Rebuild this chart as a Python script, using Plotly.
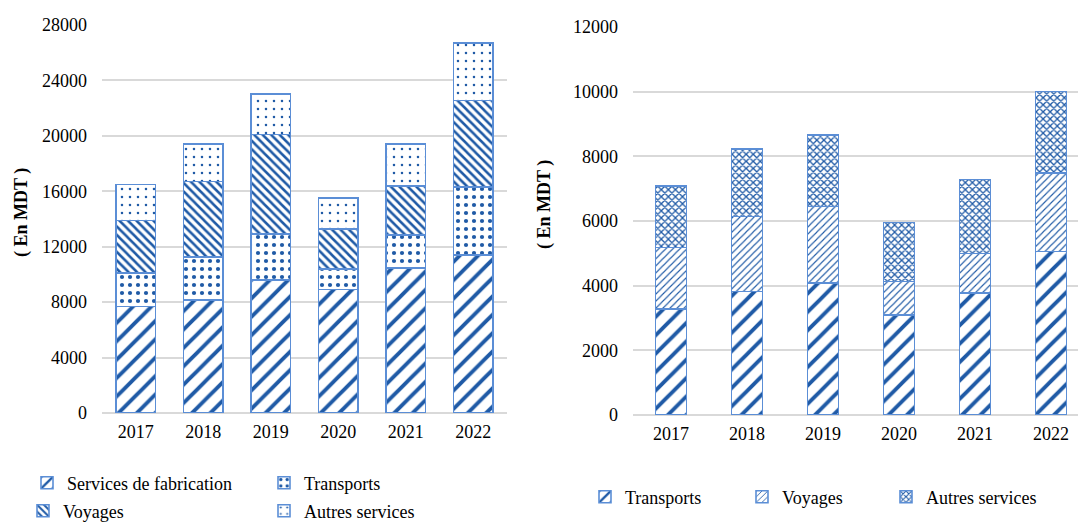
import plotly.graph_objects as go

W, H = 1078, 525

years = ["2017", "2018", "2019", "2020", "2021", "2022"]

# Left panel: services by component (MDT)
fabrication = [7700, 8150, 9600, 8900, 10450, 11400]
transports_all = [2400, 3100, 3300, 1500, 2400, 4900]
voyages_all = [3800, 5450, 7200, 2900, 3550, 6250]
autres_all = [2600, 2700, 2900, 2200, 3000, 4150]

# Right panel: services by component (MDT)
transports = [3270, 3820, 4080, 3100, 3770, 5060]
voyages = [1910, 2320, 2370, 1030, 1230, 2420]
autres = [1910, 2080, 2210, 1820, 2280, 2520]

left_ticks = [0, 4000, 8000, 12000, 16000, 20000, 24000, 28000]
right_ticks = [0, 2000, 4000, 6000, 8000, 10000, 12000]

FG = "#1f5aa6"
EDGE = "#5b8ed6"
GRID = "#d9d9d9"
FONT = "Liberation Serif"


def px_x(v):
    return v / W


def px_y(v):
    return (H - v) / H


def bar(name, values, xa, ya, shape, size, solidity, width, legend):
    return go.Bar(
        name=name, x=years, y=values, xaxis=xa, yaxis=ya, width=width,
        legend=legend,
        marker=dict(
            color="white",
            line=dict(color=EDGE, width=1.6),
            pattern=dict(shape=shape, fgcolor=FG, bgcolor="white",
                         size=size, solidity=solidity, fillmode="replace"),
        ),
        hoverinfo="x+y+name",
    )


fig = go.Figure()
fig.add_trace(bar("Services de fabrication", fabrication, "x", "y", "/", 13, 0.3, 0.58, "legend"))
fig.add_trace(bar("Transports", transports_all, "x", "y", ".", 8, 0.22, 0.58, "legend2"))
fig.add_trace(bar("Voyages", voyages_all, "x", "y", "\\", 6, 0.42, 0.58, "legend3"))
fig.add_trace(bar("Autres services", autres_all, "x", "y", ".", 8, 0.08, 0.58, "legend4"))

fig.add_trace(bar("Transports", transports, "x2", "y2", "/", 13, 0.3, 0.41, "legend5"))
fig.add_trace(bar("Voyages", voyages, "x2", "y2", "/", 5, 0.22, 0.41, "legend6"))
fig.add_trace(bar("Autres services", autres, "x2", "y2", "x", 5, 0.45, 0.41, "legend7"))

axis_font = dict(family=FONT, size=18, color="black")

xcommon = dict(type="category", showgrid=False, zeroline=False, showline=False,
               ticks="", tickfont=axis_font, ticklabelstandoff=6,
               automargin=False, fixedrange=True)
ycommon = dict(showgrid=True, gridcolor=GRID, gridwidth=1.6, zeroline=True,
               zerolinecolor=GRID, zerolinewidth=1.6, showline=False, ticks="",
               tickfont=axis_font, ticklabelstandoff=14, automargin=False,
               fixedrange=True)

legend_common = dict(orientation="h", xanchor="left", yanchor="middle",
                     bgcolor="rgba(0,0,0,0)", borderwidth=0,
                     font=dict(family=FONT, size=18, color="black"))


def legend_at(text_x, center_y):
    return dict(legend_common, x=px_x(text_x - 40), y=px_y(center_y))


fig.update_layout(
    width=W, height=H,
    margin=dict(l=0, r=0, t=0, b=0, autoexpand=False),
    paper_bgcolor="white", plot_bgcolor="white",
    barmode="stack",
    font=dict(family=FONT, size=18, color="black"),
    xaxis=dict(xcommon, domain=[px_x(102), px_x(507)], anchor="y"),
    yaxis=dict(ycommon, domain=[px_y(413), px_y(25)], anchor="x",
               range=[0, 28000], tickvals=left_ticks,
               ticktext=[str(t) for t in left_ticks]),
    xaxis2=dict(xcommon, domain=[px_x(633), 1.0], anchor="y2",
                range=[-0.5, 5.5 - 11 / 76]),
    yaxis2=dict(ycommon, domain=[px_y(415), px_y(27)], anchor="x2",
                range=[0, 12000], tickvals=right_ticks,
                ticktext=[str(t) for t in right_ticks]),
    legend=legend_at(67, 483),
    legend2=legend_at(304, 483),
    legend3=legend_at(63, 511),
    legend4=legend_at(304, 511),
    legend5=legend_at(625, 497),
    legend6=legend_at(782, 497),
    legend7=legend_at(926, 497),
    showlegend=True,
)

for x_c, y_c in [(21, 213), (545, 205)]:
    fig.add_annotation(
        text="( En MDT )", xref="paper", yref="paper",
        x=px_x(x_c), y=px_y(y_c), xanchor="center", yanchor="middle",
        textangle=-90, showarrow=False,
        font=dict(family=FONT, size=18, color="black", weight="bold"),
    )

fig.write_html("out.html")
